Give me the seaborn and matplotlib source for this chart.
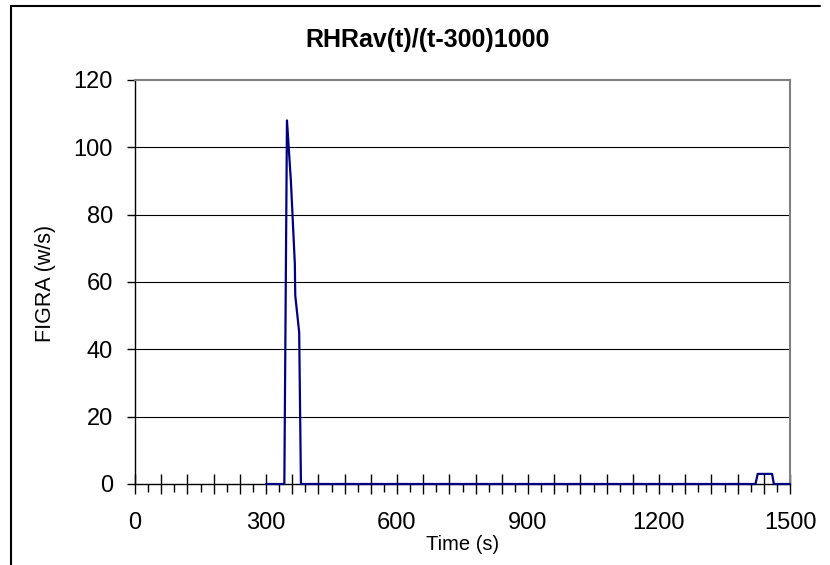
import matplotlib
matplotlib.use("Agg")
import matplotlib.pyplot as plt
import seaborn as sns
import pandas as pd
from matplotlib.lines import Line2D

# ---- data ----
time_s = [300, 342, 348, 357, 366, 367, 376, 380, 1421, 1426, 1459, 1463, 1500]
figra = [0, 0, 108, 90, 65.5, 56, 45, 0, 0, 3, 3, 0, 0]
x_tick_values = [0, 300, 600, 900, 1200, 1500]
y_tick_values = [0, 20, 40, 60, 80, 100, 120]
title = "RHRav(t)/(t-300)1000"
xlabel = "Time (s)"
ylabel = "FIGRA (w/s)"

sns.set_theme(style="white")
plt.rcParams["font.family"] = ["Liberation Sans", "DejaVu Sans"]

W, H = 830, 565
fig = plt.figure(figsize=(W / 100, H / 100), dpi=100)
fig.patch.set_facecolor("white")

left, right, top, bottom = 135, 790, 80, 484
ax = fig.add_axes([left / W, 1 - bottom / H, (right - left) / W, (bottom - top) / H])

df = pd.DataFrame({"t": time_s, "v": figra})
sns.lineplot(data=df, x="t", y="v", ax=ax, color="#000080", linewidth=1.6,
             estimator=None, sort=False, zorder=5, clip_on=False)

ax.set_xlim(0, 1500)
ax.set_ylim(0, 120)

# gridlines
for yv in y_tick_values[1:-1]:
    ax.axhline(yv, color="black", linewidth=0.8, zorder=1)

# spines
for s in ["left", "bottom"]:
    ax.spines[s].set_color("black")
    ax.spines[s].set_linewidth(1.0)
for s in ["top", "right"]:
    ax.spines[s].set_color("#808080")
    ax.spines[s].set_linewidth(1.5)

# ticks
major_x = list(range(0, 1501, 60))
minor_x = list(range(30, 1500, 60))
ax.set_xticks(major_x)
ax.set_xticklabels([str(v) if v in x_tick_values else "" for v in major_x])
ax.set_xticks(minor_x, minor=True)
ax.set_yticks(y_tick_values)
ax.set_yticklabels([str(v) for v in y_tick_values])

ax.tick_params(axis="x", which="major", direction="inout", length=15, width=1.0,
               color="black", labelsize=17, pad=13, bottom=True)
ax.tick_params(axis="x", which="minor", direction="out", length=6, width=1.0,
               color="black", bottom=True)
ax.tick_params(axis="y", which="major", direction="out", length=6, width=1.0,
               color="black", labelsize=17, pad=10, left=True)
for lbl in ax.get_xticklabels() + ax.get_yticklabels():
    lbl.set_color("black")

ax.set_xlabel("")
ax.set_ylabel("")

fig.text(463 / W, 1 - 545 / H, xlabel, ha="center", va="center", fontsize=14.5, color="black")
fig.text(46 / W, 1 - 283 / H, ylabel, ha="center", va="center", rotation=90,
         fontsize=15.5, color="black")
fig.text(427.5 / W, 1 - 40 / H, title, ha="center", va="center", fontsize=18,
         fontweight="bold", color="black")

# outer chart-area border (partially cropped in the reference)
fig.add_artist(Line2D([11 / W, 11 / W], [1 - 6 / H, 0], transform=fig.transFigure,
                      color="black", linewidth=1.5))
fig.add_artist(Line2D([11 / W, 820 / W], [1 - 6 / H, 1 - 6 / H], transform=fig.transFigure,
                      color="black", linewidth=1.5))

fig.savefig("out.png", dpi=100, facecolor="white")
